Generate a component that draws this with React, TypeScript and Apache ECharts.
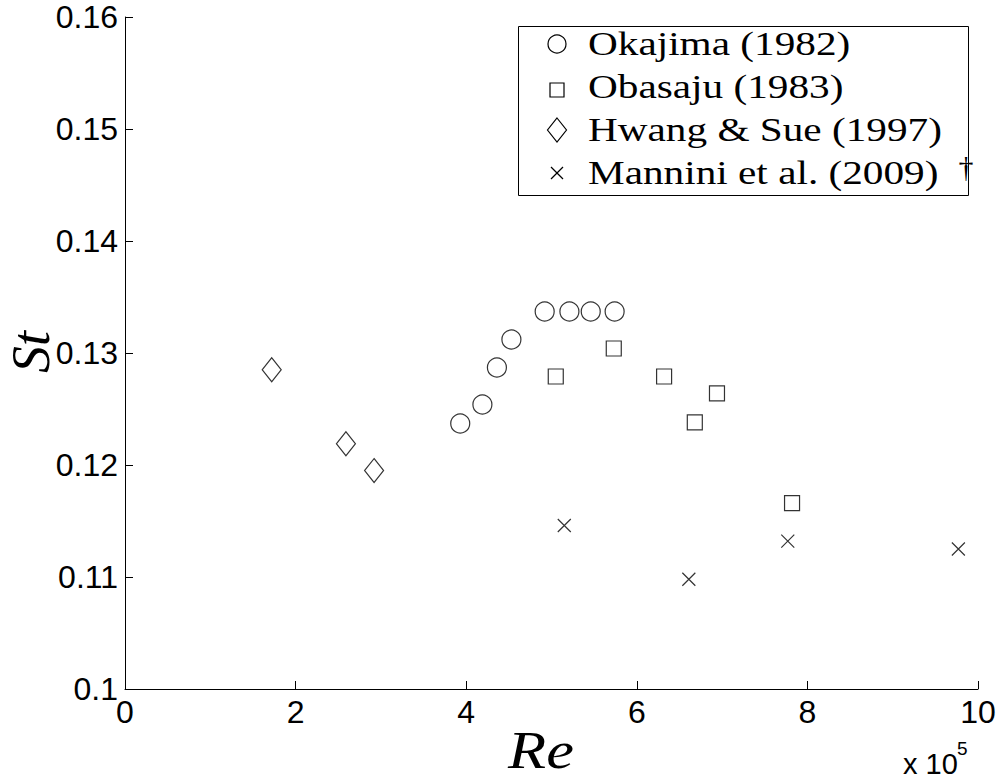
import React, { useEffect, useRef } from "react";
import * as echarts from "echarts";

const okajimaRe = [3.93, 4.19, 4.36, 4.53, 4.92, 5.21, 5.46, 5.74];
const okajimaSt = [0.1237, 0.1254, 0.1287, 0.1312, 0.1337, 0.1337, 0.1337, 0.1337];

const obasajuRe = [5.05, 5.73, 6.32, 6.68, 6.94, 7.82];
const obasajuSt = [0.1279, 0.1304, 0.1279, 0.1238, 0.1264, 0.1166];

const hwangRe = [1.72, 2.59, 2.92];
const hwangSt = [0.1285, 0.1219, 0.1195];

const manniniRe = [5.15, 6.61, 7.77, 9.77];
const manniniSt = [0.1146, 0.1098, 0.1132, 0.1125];

const seriesNames = ["Okajima (1982)", "Obasaju (1983)", "Hwang & Sue (1997)", "Mannini et al. (2009)"];
const xTicks = [0, 2, 4, 6, 8, 10];

const crossPath = "path://M0,0L10,10M10,0L0,10";

const pair = (xs: number[], ys: number[]) => xs.map((x, i) => [x, ys[i]]);

export default function App() {
  const ref = useRef<HTMLDivElement>(null);
  useEffect(() => {
    if (!ref.current) return;
    const chart = echarts.init(ref.current, undefined, { renderer: "svg" });
    const markerStyle = { color: "rgba(0,0,0,0)", borderColor: "#000", borderWidth: 1.2 };
    const sansFont = "'Liberation Sans', Arial, Helvetica, sans-serif";
    const serifFont = "'Liberation Serif', 'Times New Roman', serif";
    const legendX = 557;
    const textX = 588;
    const rowY = [44, 87, 130, 173];
    chart.setOption({
      animation: false,
      backgroundColor: "#fff",
      grid: { left: 125, top: 17, right: 22, bottom: 90, containLabel: false },
      xAxis: {
        type: "value",
        min: 0,
        max: 10,
        interval: 2,
        axisLine: { show: true, lineStyle: { color: "#000", width: 1 } },
        axisTick: { show: true, inside: true, length: 8, lineStyle: { color: "#000" } },
        splitLine: { show: false },
        axisLabel: {
          color: "#000",
          fontSize: 32,
          fontFamily: sansFont,
          margin: 7,
          formatter: (v: number) => (xTicks.includes(v) ? String(v) : ""),
        },
      },
      yAxis: {
        type: "value",
        min: 0.1,
        max: 0.16,
        interval: 0.01,
        axisLine: { show: true, lineStyle: { color: "#000", width: 1 } },
        axisTick: { show: true, inside: true, length: 8, lineStyle: { color: "#000" } },
        splitLine: { show: false },
        axisLabel: {
          color: "#000",
          fontSize: 32,
          fontFamily: sansFont,
          margin: 7,
          formatter: (v: number) => String(+v.toFixed(2)),
        },
      },
      series: [
        {
          name: seriesNames[0],
          type: "scatter",
          symbol: "circle",
          symbolSize: 19,
          itemStyle: markerStyle,
          data: pair(okajimaRe, okajimaSt),
        },
        {
          name: seriesNames[1],
          type: "scatter",
          symbol: "rect",
          symbolSize: 15,
          itemStyle: markerStyle,
          data: pair(obasajuRe, obasajuSt),
        },
        {
          name: seriesNames[2],
          type: "scatter",
          symbol: "diamond",
          symbolSize: [19, 24],
          itemStyle: markerStyle,
          data: pair(hwangRe, hwangSt),
        },
        {
          name: seriesNames[3],
          type: "scatter",
          symbol: crossPath,
          symbolSize: 13,
          itemStyle: markerStyle,
          data: pair(manniniRe, manniniSt),
        },
      ],
      graphic: [
        {
          type: "rect",
          shape: { x: 518.5, y: 26.5, width: 450, height: 169 },
          style: { fill: "#fff", stroke: "#000", lineWidth: 1 },
          z: 10,
        },
        {
          type: "circle",
          shape: { cx: legendX, cy: rowY[0], r: 9 },
          style: { fill: "none", stroke: "#000", lineWidth: 1.2 },
          z: 11,
        },
        {
          type: "rect",
          shape: { x: legendX - 7, y: rowY[1] - 4, width: 14, height: 14 },
          style: { fill: "none", stroke: "#000", lineWidth: 1.2 },
          z: 11,
        },
        {
          type: "polygon",
          shape: {
            points: [
              [legendX, rowY[2] - 12],
              [legendX + 9.5, rowY[2]],
              [legendX, rowY[2] + 12],
              [legendX - 9.5, rowY[2]],
            ],
          },
          style: { fill: "none", stroke: "#000", lineWidth: 1.2 },
          z: 11,
        },
        {
          type: "line",
          shape: { x1: legendX - 6, y1: rowY[3] - 6, x2: legendX + 6, y2: rowY[3] + 6 },
          style: { stroke: "#000", lineWidth: 1.2 },
          z: 11,
        },
        {
          type: "line",
          shape: { x1: legendX + 6, y1: rowY[3] - 6, x2: legendX - 6, y2: rowY[3] + 6 },
          style: { stroke: "#000", lineWidth: 1.2 },
          z: 11,
        },
        ...seriesNames.map((name, i) => ({
          type: "text",
          x: textX,
          y: rowY[i],
          scaleX: 1.25,
          z: 11,
          style: {
            text: name,
            fontSize: 33,
            fontFamily: serifFont,
            fill: "#000",
            textAlign: "left",
            textVerticalAlign: "middle",
          },
        })),
        {
          type: "text",
          x: 966,
          y: 166,
          z: 12,
          style: {
            text: "†",
            fontSize: 30,
            fontFamily: serifFont,
            fill: "#000",
            textAlign: "center",
            textVerticalAlign: "middle",
          },
        },
        {
          type: "text",
          x: 541,
          y: 750,
          scaleX: 1.2,
          style: {
            text: "Re",
            fontSize: 52,
            lineHeight: 46,
            fontStyle: "italic",
            fontFamily: serifFont,
            fill: "#000",
            textAlign: "center",
            textVerticalAlign: "middle",
          },
        },
        {
          type: "text",
          x: 31,
          y: 352,
          rotation: Math.PI / 2,
          style: {
            text: "St",
            fontSize: 54,
            fontStyle: "italic",
            fontFamily: serifFont,
            fill: "#000",
            textAlign: "center",
            textVerticalAlign: "middle",
          },
        },
        {
          type: "text",
          x: 903,
          y: 764,
          style: {
            text: "x 10",
            fontSize: 29,
            lineHeight: 26,
            fontFamily: sansFont,
            fill: "#000",
            textAlign: "left",
            textVerticalAlign: "middle",
          },
        },
        {
          type: "text",
          x: 957,
          y: 748,
          style: {
            text: "5",
            fontSize: 19,
            fontFamily: sansFont,
            fill: "#000",
            textAlign: "left",
            textVerticalAlign: "middle",
          },
        },
      ],
    });
    return () => chart.dispose();
  }, []);
  return (
    <div
      ref={ref}
      style={{ position: "absolute", left: 0, top: 0, width: 1000, height: 779, background: "#fff" }}
    />
  );
}
